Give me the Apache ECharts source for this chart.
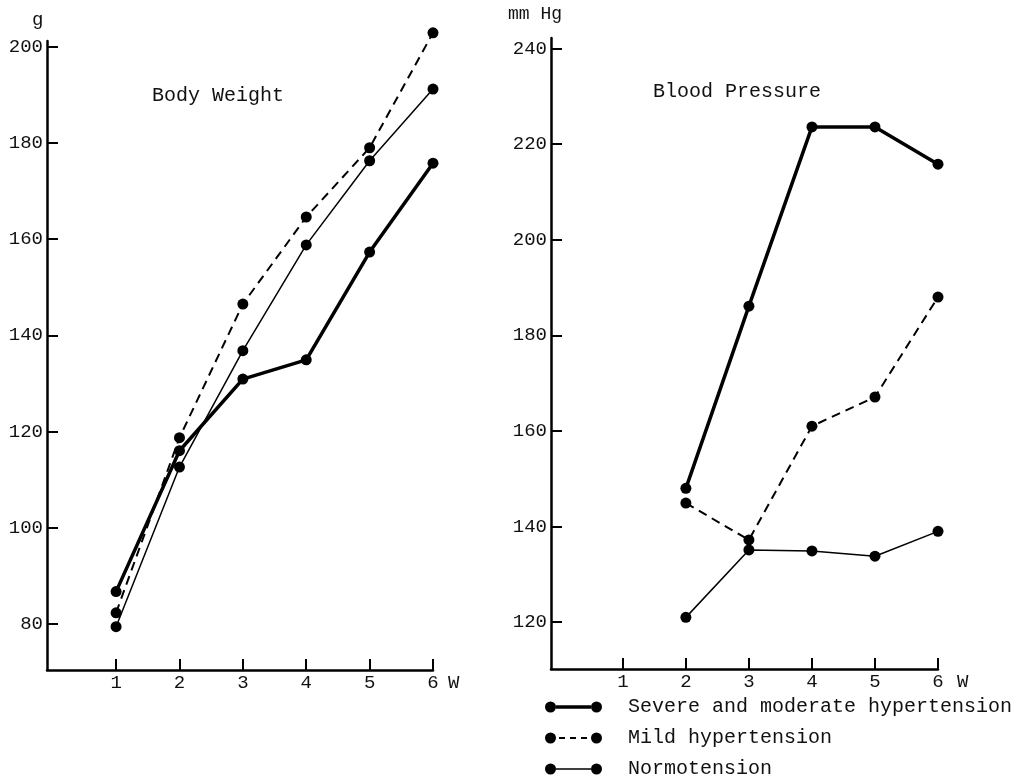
<!DOCTYPE html>
<html>
<head>
<meta charset="utf-8">
<script src="https://cdn.jsdelivr.net/npm/echarts@6/dist/echarts.min.js"></script>
<style>
html,body{margin:0;padding:0;background:#fff;}
#chart{width:1018px;height:778px;}
</style>
</head>
<body>
<div id="chart"></div>
<script>
// ---- data ----
const weeks = [1, 2, 3, 4, 5, 6];
const bwSevere = [86.7, 116.0, 130.9, 134.9, 157.3, 175.8];
const bwMild = [82.3, 118.7, 146.5, 164.6, 179.0, 202.9];
const bwNormo = [79.4, 112.6, 136.8, 158.8, 176.3, 191.2];

const bpWeeks = [2, 3, 4, 5, 6];
const bpSevere = [148.0, 186.1, 223.6, 223.6, 215.8];
const bpMild = [144.9, 137.2, 161.0, 167.1, 188.0];
const bpNormo = [121.0, 135.1, 134.9, 133.8, 139.0];

const xTicks = [1, 2, 3, 4, 5, 6];
const bwTicks = [80, 100, 120, 140, 160, 180, 200];
const bpTicks = [120, 140, 160, 180, 200, 220, 240];

const seriesNames = ['Severe and moderate hypertension', 'Mild hypertension', 'Normotension'];

// ---- helpers ----
const FONT = 'Liberation Mono';
const pair = (xs, ys) => xs.map((x, i) => [x, ys[i]]);

const circ = cx => `M${cx - 5.5},5.5A5.5,5.5 0 1 0 ${cx + 5.5},5.5A5.5,5.5 0 1 0 ${cx - 5.5},5.5Z`;
const iconSevere = 'path://' + circ(5.5) + ' M11,3.75L46,3.75L46,7.25L11,7.25Z ' + circ(51.5);
const iconMild = 'path://' + circ(5.5) + ' M14,4.4L20,4.4L20,6.6L14,6.6Z M25,4.4L31,4.4L31,6.6L25,6.6Z M36,4.4L42,4.4L42,6.6L36,6.6Z ' + circ(51.5);
const iconNormo = 'path://' + circ(5.5) + ' M11,4.75L46,4.75L46,6.25L11,6.25Z ' + circ(51.5);

const lineStyles = [
  { color: '#000', width: 3.5, type: 'solid' },
  { color: '#000', width: 2, type: [9, 6] },
  { color: '#000', width: 1.5, type: 'solid' }
];

function xAxis(gridIndex, min, nameGap) {
  return {
    type: 'value', gridIndex, min, max: 6,
    name: 'W', nameLocation: 'end', nameGap,
    nameTextStyle: { fontFamily: FONT, fontSize: 19, color: '#111', verticalAlign: 'top', padding: [3, 0, 0, 0] },
    axisLine: { show: true, onZero: false, lineStyle: { color: '#000', width: 2.5 } },
    axisTick: { show: true, inside: true, length: 11, customValues: xTicks, lineStyle: { color: '#000', width: 2 } },
    axisLabel: { customValues: xTicks, fontFamily: FONT, fontSize: 19, color: '#111', margin: 3 },
    splitLine: { show: false }
  };
}
function yAxis(gridIndex, min, max, ticks) {
  return {
    type: 'value', gridIndex, min, max,
    axisLine: { show: true, onZero: false, lineStyle: { color: '#000', width: 2.5 } },
    axisTick: { show: true, inside: true, length: 11, customValues: ticks, lineStyle: { color: '#000', width: 2 } },
    axisLabel: { customValues: ticks, fontFamily: FONT, fontSize: 19, color: '#111', margin: 4 },
    splitLine: { show: false }
  };
}
function lineSeries(name, idx, xs, ys, styleIdx) {
  return {
    name, type: 'line', xAxisIndex: idx, yAxisIndex: idx,
    data: pair(xs, ys), clip: false,
    symbol: 'circle', symbolSize: 11,
    itemStyle: { color: '#000' },
    lineStyle: lineStyles[styleIdx],
    animation: false
  };
}

const chart = echarts.init(document.getElementById('chart'));
chart.setOption({
  backgroundColor: '#fff',
  animation: false,
  textStyle: { fontFamily: FONT },
  title: [
    { text: 'Body Weight', left: 152, top: 86, padding: 0, textStyle: { fontFamily: FONT, fontSize: 20, fontWeight: 'normal', color: '#111' } },
    { text: 'Blood Pressure', left: 653, top: 82, padding: 0, textStyle: { fontFamily: FONT, fontSize: 20, fontWeight: 'normal', color: '#111' } }
  ],
  grid: [
    { left: 47, right: 585, top: 41, bottom: 108 },
    { left: 551, right: 80, top: 38, bottom: 109 }
  ],
  xAxis: [xAxis(0, -0.09, 15), xAxis(1, -0.14, 19)],
  yAxis: [yAxis(0, 70.4, 201.2, bwTicks), yAxis(1, 110.2, 242.2, bpTicks)],
  legend: {
    orient: 'vertical', left: 545, top: 697, height: 100, padding: 0, itemGap: 11,
    itemWidth: 57, itemHeight: 11, symbolKeepAspect: true,
    itemStyle: { color: '#000', borderWidth: 0 },
    textStyle: { fontFamily: FONT, fontSize: 20, color: '#111', padding: [0, 0, 0, 21] },
    data: [
      { name: seriesNames[0], icon: iconSevere },
      { name: seriesNames[1], icon: iconMild },
      { name: seriesNames[2], icon: iconNormo }
    ],
    selectedMode: false
  },
  graphic: [
    { type: 'text', left: 32, top: 10, style: { text: 'g', font: '19px "Liberation Mono"', fill: '#111' } },
    { type: 'text', left: 508, top: 5, style: { text: 'mm Hg', font: '18px "Liberation Mono"', fill: '#111' } }
  ],
  series: [
    lineSeries(seriesNames[0], 0, weeks, bwSevere, 0),
    lineSeries(seriesNames[1], 0, weeks, bwMild, 1),
    lineSeries(seriesNames[2], 0, weeks, bwNormo, 2),
    lineSeries(seriesNames[0], 1, bpWeeks, bpSevere, 0),
    lineSeries(seriesNames[1], 1, bpWeeks, bpMild, 1),
    lineSeries(seriesNames[2], 1, bpWeeks, bpNormo, 2)
  ]
});
</script>
</body>
</html>
